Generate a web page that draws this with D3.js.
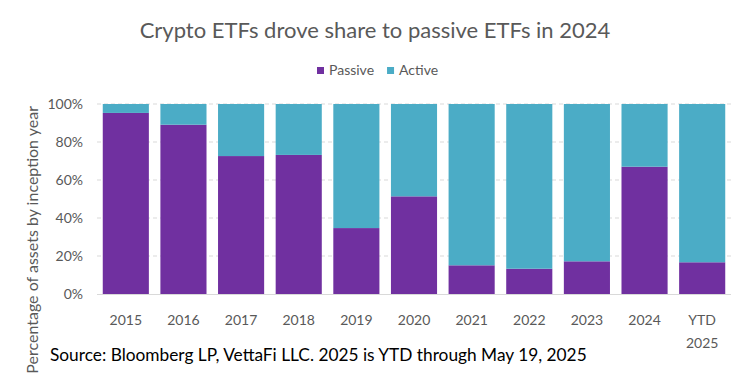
<!DOCTYPE html>
<html>
<head>
<meta charset="utf-8">
<script src="https://cdn.jsdelivr.net/npm/d3@7"></script>
<style>
  body { margin: 0; background: #fff; }
  text { font-family: Lato, "Open Sans", sans-serif; }
</style>
</head>
<body>
<div id="chart"></div>
<script>
var categories = ["2015", "2016", "2017", "2018", "2019", "2020", "2021", "2022", "2023", "2024", "YTD 2025"];
var passive = [95.3, 89.1, 72.6, 73.2, 34.7, 51.4, 15.1, 13.3, 17.2, 67.0, 16.7];
var active = passive.map(function(p){ return 100 - p; });
var yTicks = [0, 20, 40, 60, 80, 100];
var series = ["Passive", "Active"];

var width = 750, height = 375;
var colors = {Passive: "#7030a0", Active: "#4bacc6"};
var margin = {top: 104, right: 19, bottom: 81, left: 97};

var svg = d3.select("#chart").append("svg")
    .attr("width", width)
    .attr("height", height);

var rows = categories.map(function(c, i){ return {cat: c, Passive: passive[i], Active: active[i]}; });
var stacked = d3.stack().keys(series)(rows);

var x = d3.scaleBand()
    .domain(categories)
    .range([margin.left, width - margin.right])
    .paddingInner(0.2)
    .paddingOuter(0.1);

var y = d3.scaleLinear()
    .domain([0, 100])
    .range([height - margin.bottom, margin.top]);

// gridlines
svg.append("g")
  .selectAll("line")
  .data(yTicks.filter(function(t){ return t > 0; }))
  .join("line")
    .attr("x1", margin.left)
    .attr("x2", width - margin.right)
    .attr("y1", d => y(d))
    .attr("y2", d => y(d))
    .attr("stroke", "#d9d9d9")
    .attr("stroke-width", 1)
    .attr("stroke-dasharray", "4,3");

// bars
svg.append("g")
  .selectAll("g")
  .data(stacked)
  .join("g")
    .attr("fill", d => colors[d.key])
  .selectAll("rect")
  .data(d => d)
  .join("rect")
    .attr("x", d => x(d.data.cat))
    .attr("width", x.bandwidth())
    .attr("y", d => y(d[1]))
    .attr("height", d => y(d[0]) - y(d[1]));

// baseline
svg.append("line")
    .attr("x1", margin.left)
    .attr("x2", width - margin.right)
    .attr("y1", y(0) + 0.5)
    .attr("y2", y(0) + 0.5)
    .attr("stroke", "#d9d9d9");

// y axis labels
var yAxis = d3.axisLeft(y).tickValues(yTicks).tickFormat(d => d + "%").tickSize(0).tickPadding(14);
var ya = svg.append("g").attr("transform", "translate(" + margin.left + ",0)").call(yAxis);
ya.select(".domain").remove();
ya.selectAll("text").attr("fill", "#595959").style("font-size", "14px").style("font-family", "Lato, sans-serif");

// x axis labels
var xa = svg.append("g").attr("transform", "translate(0," + (height - margin.bottom) + ")")
    .call(d3.axisBottom(x).tickSize(0).tickPadding(0));
xa.select(".domain").remove();
xa.selectAll("text").remove();
xa.selectAll(".tick").each(function(d){
  var parts = d.split(" ");
  var t = d3.select(this).append("text")
      .attr("fill", "#595959")
      .attr("text-anchor", "middle")
      .style("font-size", "14px");
  parts.forEach(function(p, i){
    t.append("tspan").attr("x", 0).attr("y", 31 + i * 23).text(p);
  });
});

// title
svg.append("text")
    .attr("x", width / 2)
    .attr("y", 38)
    .attr("text-anchor", "middle")
    .attr("fill", "#595959")
    .style("font-size", "22px")
    .text("Crypto ETFs drove share to passive ETFs in 2024");

// legend
var legend = svg.append("g").attr("transform", "translate(317,67)");
var lx = 0;
series.forEach(function(s){
  var lg = legend.append("g").attr("transform", "translate(" + lx + ",0)");
  lg.append("rect").attr("width", 7).attr("height", 7).attr("fill", colors[s]);
  var tt = lg.append("text").attr("x", 12).attr("y", 8)
      .attr("fill", "#595959").style("font-size", "14px").text(s);
  lx += 12 + tt.node().getComputedTextLength() + 13;
});

// y axis title
svg.append("text")
    .attr("transform", "translate(38,106) rotate(-90)")
    .attr("text-anchor", "end")
    .attr("fill", "#595959")
    .style("font-size", "16px")
    .text("Percentage of assets by inception year");

// source
svg.append("text")
    .attr("x", 50)
    .attr("y", 361)
    .attr("fill", "#000")
    .style("font-size", "17.3px")
    .text("Source: Bloomberg LP, VettaFi LLC. 2025 is YTD through May 19, 2025");
</script>
</body>
</html>
